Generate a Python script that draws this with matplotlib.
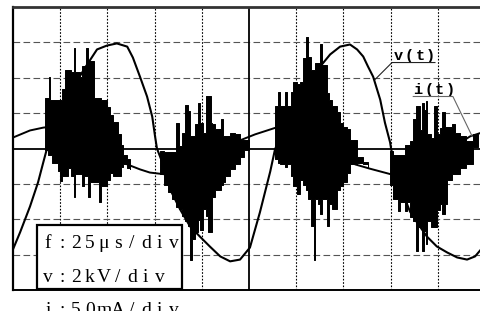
import matplotlib.pyplot as plt
from matplotlib.patches import Rectangle

# everything in screen divisions: 25 us/div, v 2 kV/div, i 50 mA/div
v_t = [0, 0.15, 0.36, 0.53, 0.64, 0.72, 0.89, 1.10, 1.31, 1.53, 1.78, 1.99, 2.20, 2.42, 2.54, 2.69,
       2.84, 2.95, 3.01, 3.05, 3.22, 3.33, 3.54, 3.75, 3.96, 4.17, 4.39, 4.60, 4.81, 5.02, 5.23,
       5.45, 5.55, 5.76, 5.98, 6.19, 6.34, 6.51, 6.72, 6.93, 7.14, 7.29, 7.42, 7.52, 7.63, 7.78,
       7.88, 7.99, 8.01, 8.09, 8.20, 8.31, 8.41, 8.56, 8.77, 8.98, 9.20, 9.41, 9.62, 9.79, 10.0]
v_y = [-2.85, -2.37, -1.64, -0.96, -0.40, 0, 0.59, 1.24, 1.81, 2.29, 2.80, 2.91, 2.97, 2.88, 2.57,
       2.03, 1.47, 0.90, 0.34, 0, -0.59, -1.16, -1.72, -2.20, -2.49, -2.77, -3.05, -3.19, -3.14,
       -2.80, -1.81, -0.65, -0.03, 0.68, 1.24, 1.72, 2.03, 2.32, 2.66, 2.88, 2.94, 2.80, 2.60,
       2.32, 2.03, 1.38, 0.73, 0.17, 0, -0.54, -1.02, -1.44, -1.78, -2.09, -2.49, -2.77, -2.94,
       -3.08, -3.14, -3.05, -2.72]

# smooth (capacitive) part of i(t)
ib_t = [0, 0.36, 0.64, 1.00, 1.42, 1.84, 2.16, 2.42, 2.69, 2.90, 3.22, 3.54, 3.96, 4.39, 4.81,
        5.13, 5.57, 5.98, 6.40, 6.82, 7.25, 7.56, 8.01, 8.41, 8.84, 9.26, 9.68, 10.0]
ib_y = [0.31, 0.51, 0.59, 0.65, 0.54, 0.17, -0.23, -0.45, -0.59, -0.68, -0.73, -0.65, -0.40,
        -0.08, 0.23, 0.40, 0.59, 0.65, 0.51, 0.03, -0.45, -0.57, -0.73, -0.65, -0.40, -0.03,
        0.34, 0.48]

# discharge bursts of i(t): top / bottom of the trace, held until next sample
b1_t = [0.68, 0.74, 0.76, 0.78, 0.83, 0.95, 1.00, 1.03, 1.10, 1.17, 1.23, 1.29, 1.32, 1.42, 1.46,
        1.50, 1.55, 1.58, 1.63, 1.71, 1.82, 1.86, 1.99, 2.06, 2.12, 2.22, 2.29, 2.34, 2.42, 2.48]
b1_hi = [1.44, 1.44, 2.01, 1.38, 1.38, 1.38, 1.38, 1.67, 2.23, 2.23, 2.15, 2.85, 2.15, 2.03, 2.32,
         2.32, 2.85, 2.46, 2.46, 1.44, 1.44, 1.38, 1.16, 0.96, 0.76, 0.40, 0.11, -0.17, -0.31, -0.45]
b1_lo = [-0.03, -0.17, -0.17, -0.17, -0.40, -0.65, -0.93, -0.79, -0.79, -0.54, -0.79, -1.36, -0.73,
         -0.73, -1.07, -0.79, -0.79, -1.36, -0.96, -0.96, -1.50, -1.07, -0.88, -0.68, -0.79, -0.79,
         -0.51, -0.45, -0.54, -0.57]

b2_t = [3.11, 3.20, 3.28, 3.37, 3.46, 3.51, 3.58, 3.64, 3.70, 3.75, 3.80, 3.86, 3.91, 3.96, 4.03,
        4.09, 4.14, 4.19, 4.22, 4.28, 4.41, 4.45, 4.49, 4.60, 4.70, 4.81, 4.89, 5.00]
b2_hi = [-0.08, -0.11, -0.11, -0.11, 0.73, 0.06, 0.45, 1.24, 1.05, 0.34, 0.34, 0.68, 1.30, 0.73,
         0.45, 1.47, 1.47, 0.73, 0.68, 0.54, 0.82, 0.34, 0.34, 0.45, 0.40, 0.25, 0.25, 0.20]
b2_lo = [-0.73, -1.02, -1.24, -1.44, -1.64, -1.72, -1.92, -2.06, -2.18, -3.14, -2.57, -2.37, -2.01,
         -2.29, -1.72, -1.92, -2.37, -2.37, -1.36, -1.16, -1.02, -0.96, -0.79, -0.59, -0.45, -0.23,
         -0.03, 0.11]

b3_t = [5.55, 5.62, 5.66, 5.76, 5.81, 5.89, 5.93, 6.02, 6.08, 6.15, 6.21, 6.25, 6.31, 6.37, 6.40,
        6.46, 6.51, 6.55, 6.65, 6.70, 6.76, 6.87, 6.93, 6.99, 7.08, 7.14, 7.29, 7.42, 7.52]
b3_hi = [1.19, 1.61, 1.19, 1.61, 1.19, 1.61, 1.89, 1.81, 1.89, 2.57, 3.16, 2.60, 2.23, 2.23, 2.43,
         2.43, 2.94, 2.37, 1.58, 1.38, 1.19, 1.02, 0.73, 0.62, 0.54, 0.25, -0.23, -0.37, -0.45]
b3_lo = [-0.31, -0.40, -0.45, -0.51, -0.45, -0.79, -1.07, -1.30, -0.88, -1.02, -1.16, -1.44, -2.20,
         -3.14, -1.44, -1.58, -1.86, -1.44, -2.20, -1.58, -1.72, -1.16, -1.07, -0.96, -0.68, -0.45,
         -0.40, -0.45, -0.51]

b4_t = [7.99, 8.05, 8.16, 8.20, 8.31, 8.35, 8.41, 8.48, 8.54, 8.58, 8.62, 8.67, 8.71, 8.74, 8.78,
        8.86, 8.92, 8.98, 9.05, 9.09, 9.15, 9.20, 9.30, 9.37, 9.47, 9.60, 9.75, 9.85]
b4_hi = [-0.08, -0.17, -0.17, -0.17, 0.11, 0.11, 0.20, 0.82, 1.19, 1.19, 0.51, 1.30, 1.10, 1.33,
         0.40, 0.31, 1.19, 0.40, 0.59, 1.02, 0.62, 0.62, 0.68, 0.45, 0.34, 0.20, 0.40, 0.42]
b4_lo = [-1.02, -1.44, -1.78, -1.50, -1.78, -1.50, -1.95, -2.06, -2.91, -2.23, -2.23, -2.91, -2.34,
         -2.71, -2.06, -2.23, -2.23, -1.75, -1.58, -1.86, -1.58, -0.88, -0.73, -0.73, -0.54, -0.45,
         0.05, 0.30]

scale_lines = ["f:25μs/div", "v:2kV/div", "i:50mA/div"]

fig = plt.figure(figsize=(4.81, 3.11), dpi=100)
ax = fig.add_axes([13 / 481, 21 / 311, 472 / 481, 283 / 311])
ax.set_xlim(0, 10)
ax.set_ylim(-4, 4)
ax.set_xticks([])
ax.set_yticks([])

# graticule
for x in range(1, 10):
    if x != 5:
        ax.axvline(x, color='black', lw=0.8, ls=(0, (1.5, 1.5)), zorder=1)
for y in range(-3, 4):
    if y != 0:
        ax.axhline(y, color='#555555', lw=0.8, ls=(0, (6, 3)), zorder=1)
ax.axvline(5, color='black', lw=1.3, zorder=1)
ax.axhline(0, color='black', lw=1.3, zorder=1)

for t, lo, hi in [(b1_t, b1_lo, b1_hi), (b2_t, b2_lo, b2_hi),
                  (b3_t, b3_lo, b3_hi), (b4_t, b4_lo, b4_hi)]:
    ax.fill_between(t, lo, hi, step='post', color='black', lw=0.7, zorder=3)

ax.plot(ib_t, ib_y, color='black', lw=1.4, zorder=2)
ax.plot(v_t, v_y, color='black', lw=1.5, zorder=4)

ax.spines['top'].set_linewidth(2.0)
ax.spines['top'].set_color('#333333')
ax.spines['left'].set_linewidth(1.6)
ax.spines['bottom'].set_linewidth(1.4)


def spaced(x0, y, s, pitch, **kw):
    # one glyph per fixed-width cell, like the scope's letter-spaced print
    for k, ch in enumerate(s):
        ax.text(x0 + k * pitch, y, ch, ha='center', va='baseline', clip_on=False, **kw)


# labels with leader lines
mono = dict(family='Liberation Mono', weight='bold', fontsize=11, zorder=6)
spaced(8.16, 2.50, 'v(t)', 0.23, **mono)
ax.plot([7.67, 8.03, 8.94], [1.95, 2.43, 2.43], color='#222222', lw=0.8, zorder=6)
spaced(8.58, 1.54, 'i(t)', 0.23, **mono)
ax.plot([8.48, 9.32, 9.73], [1.47, 1.47, 0.34], color='#666666', lw=0.8, zorder=6)

# scale box
ax.add_patch(Rectangle((0.51, -3.96), 3.07, 1.81, facecolor='white', edgecolor='black',
                       lw=1.6, zorder=5))
for base, line in zip([-2.80, -3.76, -4.72], scale_lines):
    spaced(0.74, base, line, 0.296, family='Liberation Serif', fontsize=14, zorder=6)

fig.savefig('out.png', dpi=100)
